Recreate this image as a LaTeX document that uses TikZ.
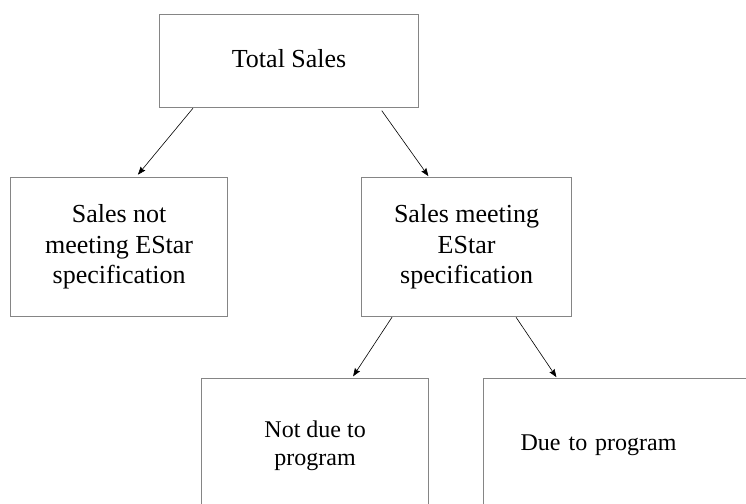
\documentclass[tikz,border=0pt]{standalone}
\usepackage{fontspec}
\setmainfont{Liberation Serif}
\usetikzlibrary{arrows.meta}
\begin{document}
\begin{tikzpicture}[x=1pt,y=-1pt,
  box/.style={draw=black!48,line width=1.2pt,anchor=north west,inner sep=0pt,align=center,
    font=\fontsize{26}{30.5}\selectfont},
  smallbox/.style={box,font=\fontsize{24}{27.6}\selectfont},
  arr/.style={-{Stealth[length=8pt,width=6pt,inset=1pt]},line width=0.6pt,black}]
\useasboundingbox (0,0) rectangle (746,503);
\clip (0,0) rectangle (746,503);
\node[box,minimum width=259pt,minimum height=93pt] (ts) at (159,14) {\raisebox{5pt}{Total Sales}};
\node[box,minimum width=217pt,minimum height=139pt] (sn) at (10,177) {Sales not\\meeting EStar\\specification};
\node[box,minimum width=210pt,minimum height=139pt] (sm) at (361,177) {Sales meeting\\EStar\\specification};
\node[smallbox,minimum width=227pt,minimum height=134pt] (nd) at (201,378) {Not due to\\program};
\node[smallbox,minimum height=134pt,text width=216pt,align=left,inner xsep=37pt] (dp) at (483,378) {Due to program};
\draw[arr,shorten >=3pt] ([xshift=34pt]ts.south west) -- ([xshift=126pt]sn.north west);
\draw[arr,shorten <=3pt,shorten >=1pt] ([xshift=221pt]ts.south west) -- ([xshift=68pt]sm.north west);
\draw[arr,shorten >=2pt] ([xshift=31pt]sm.south west) -- ([xshift=151pt]nd.north west);
\draw[arr,shorten >=1pt] ([xshift=155pt]sm.south west) -- ([xshift=74pt]dp.north west);
\end{tikzpicture}
\end{document}
